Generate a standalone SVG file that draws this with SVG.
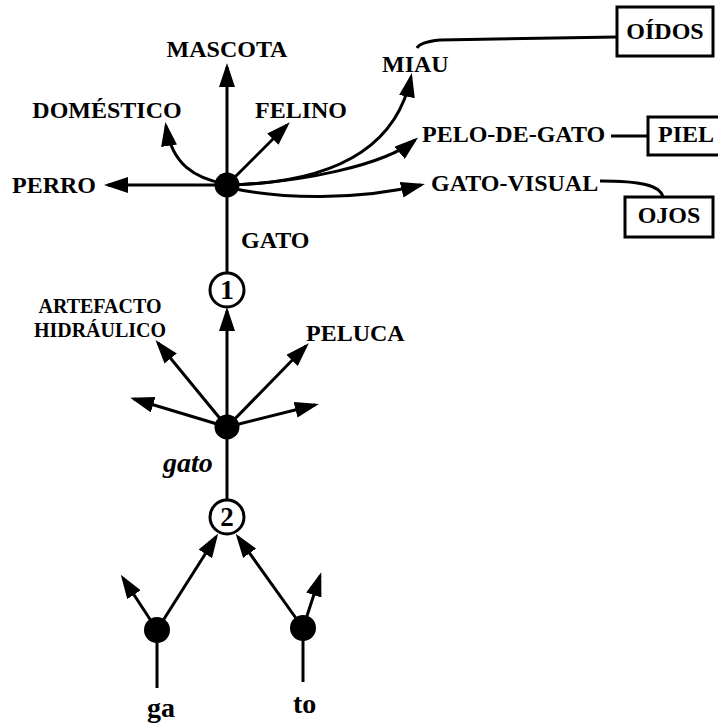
<svg xmlns="http://www.w3.org/2000/svg" width="718" height="724" viewBox="0 0 718 724">
<style>
text{font-family:"Liberation Serif","Times New Roman",serif;font-weight:bold;fill:#000}
.t{font-size:24px}
.s{font-size:20px}
.b{font-size:28px}
.m{text-anchor:middle}
.c{fill:none;stroke:#000;stroke-width:3}
.a{fill:none;stroke:#000;stroke-width:3;marker-end:url(#ah)}
.box{fill:#fff;stroke:#000;stroke-width:3}
.dot{fill:#000}
.ring{fill:#fff;stroke:#000;stroke-width:3}
</style>
<defs>
<marker id="ah" viewBox="0 0 24 16" refX="20" refY="8" markerWidth="24" markerHeight="16" orient="auto" markerUnits="userSpaceOnUse">
<path d="M0,0 L24,8 L0,16 z" fill="#000"/>
</marker>
</defs>
<rect width="718" height="724" fill="#fff"/>
<g id="connectors">
<line class="a" x1="227" y1="185" x2="227" y2="67"/>
<line class="a" x1="227" y1="185" x2="108" y2="185"/>
<path class="a" d="M225,184 C195,178 172,165 166,126"/>
<line class="a" x1="227" y1="185" x2="287" y2="125"/>
<path class="a" d="M227,185 C345,183 398,140 411,77"/>
<path class="a" d="M227,185 C300,183 385,165 415,140"/>
<path class="a" d="M227,187 C280,200 360,200 421,185"/>
<path class="c" d="M617,37 L440,40 Q420,42 417,48"/>
<line class="c" x1="611" y1="136" x2="648" y2="136"/>
<path class="c" d="M600,181 C640,181 660,185 663,197"/>
<line class="c" x1="227" y1="185" x2="227" y2="273"/>
<line class="a" x1="227" y1="427" x2="227" y2="311"/>
<line class="a" x1="227" y1="427" x2="158" y2="343"/>
<line class="a" x1="227" y1="427" x2="306" y2="346"/>
<line class="a" x1="227" y1="427" x2="134" y2="399"/>
<line class="a" x1="227" y1="427" x2="315" y2="405"/>
<line class="c" x1="227" y1="427" x2="227" y2="500"/>
<line class="a" x1="157" y1="630" x2="216" y2="537"/>
<line class="a" x1="303" y1="628" x2="238" y2="537"/>
<line class="a" x1="157" y1="630" x2="123" y2="578"/>
<line class="a" x1="303" y1="628" x2="320" y2="576"/>
<line class="c" x1="157" y1="630" x2="157" y2="688"/>
<line class="c" x1="303" y1="628" x2="303" y2="682"/>
</g>
<g id="n-gato-top"><circle class="dot" cx="227" cy="185" r="12.5"/></g>
<g id="n-mascota"><text class="t m" x="227" y="57">MASCOTA</text></g>
<g id="n-domestico"><text class="t m" x="107" y="118">DOMÉSTICO</text></g>
<g id="n-felino"><text class="t" x="255" y="118">FELINO</text></g>
<g id="n-perro"><text class="t" x="12" y="193">PERRO</text></g>
<g id="n-gato-label"><text class="t" x="241" y="248">GATO</text></g>
<g id="n-miau"><text class="t" x="382" y="72">MIAU</text></g>
<g id="n-oidos"><rect class="box" x="617" y="7" width="96" height="49"/><text class="t m" x="665" y="39">OÍDOS</text></g>
<g id="n-pelo"><text class="t" x="422" y="142">PELO-DE-GATO</text></g>
<g id="n-piel"><rect class="box" x="648" y="117" width="80" height="38"/><text class="t" x="658" y="142">PIEL</text></g>
<g id="n-visual"><text class="t" x="431" y="191">GATO-VISUAL</text></g>
<g id="n-ojos"><rect class="box" x="625" y="197" width="88" height="40"/><text class="t m" x="669" y="223">OJOS</text></g>
<g id="n-c1"><circle class="ring" cx="227" cy="290" r="17"/><text class="b m" x="227" y="299">1</text></g>
<g id="n-artefacto"><text class="s m" x="100" y="313">ARTEFACTO</text><text class="s m" x="100" y="337">HIDRÁULICO</text></g>
<g id="n-peluca"><text class="t" x="306" y="341">PELUCA</text></g>
<g id="n-gato-low"><circle class="dot" cx="227" cy="427" r="12.5"/></g>
<g id="n-gato-it"><text class="b" x="163" y="472" font-style="italic">gato</text></g>
<g id="n-c2"><circle class="ring" cx="227" cy="517" r="17"/><text class="m" x="227" y="526" font-size="27">2</text></g>
<g id="n-ga"><circle class="dot" cx="157" cy="630" r="13"/><text class="b" x="147" y="717">ga</text></g>
<g id="n-to"><circle class="dot" cx="303" cy="628" r="13"/><text class="b" x="293" y="713">to</text></g>
</svg>
